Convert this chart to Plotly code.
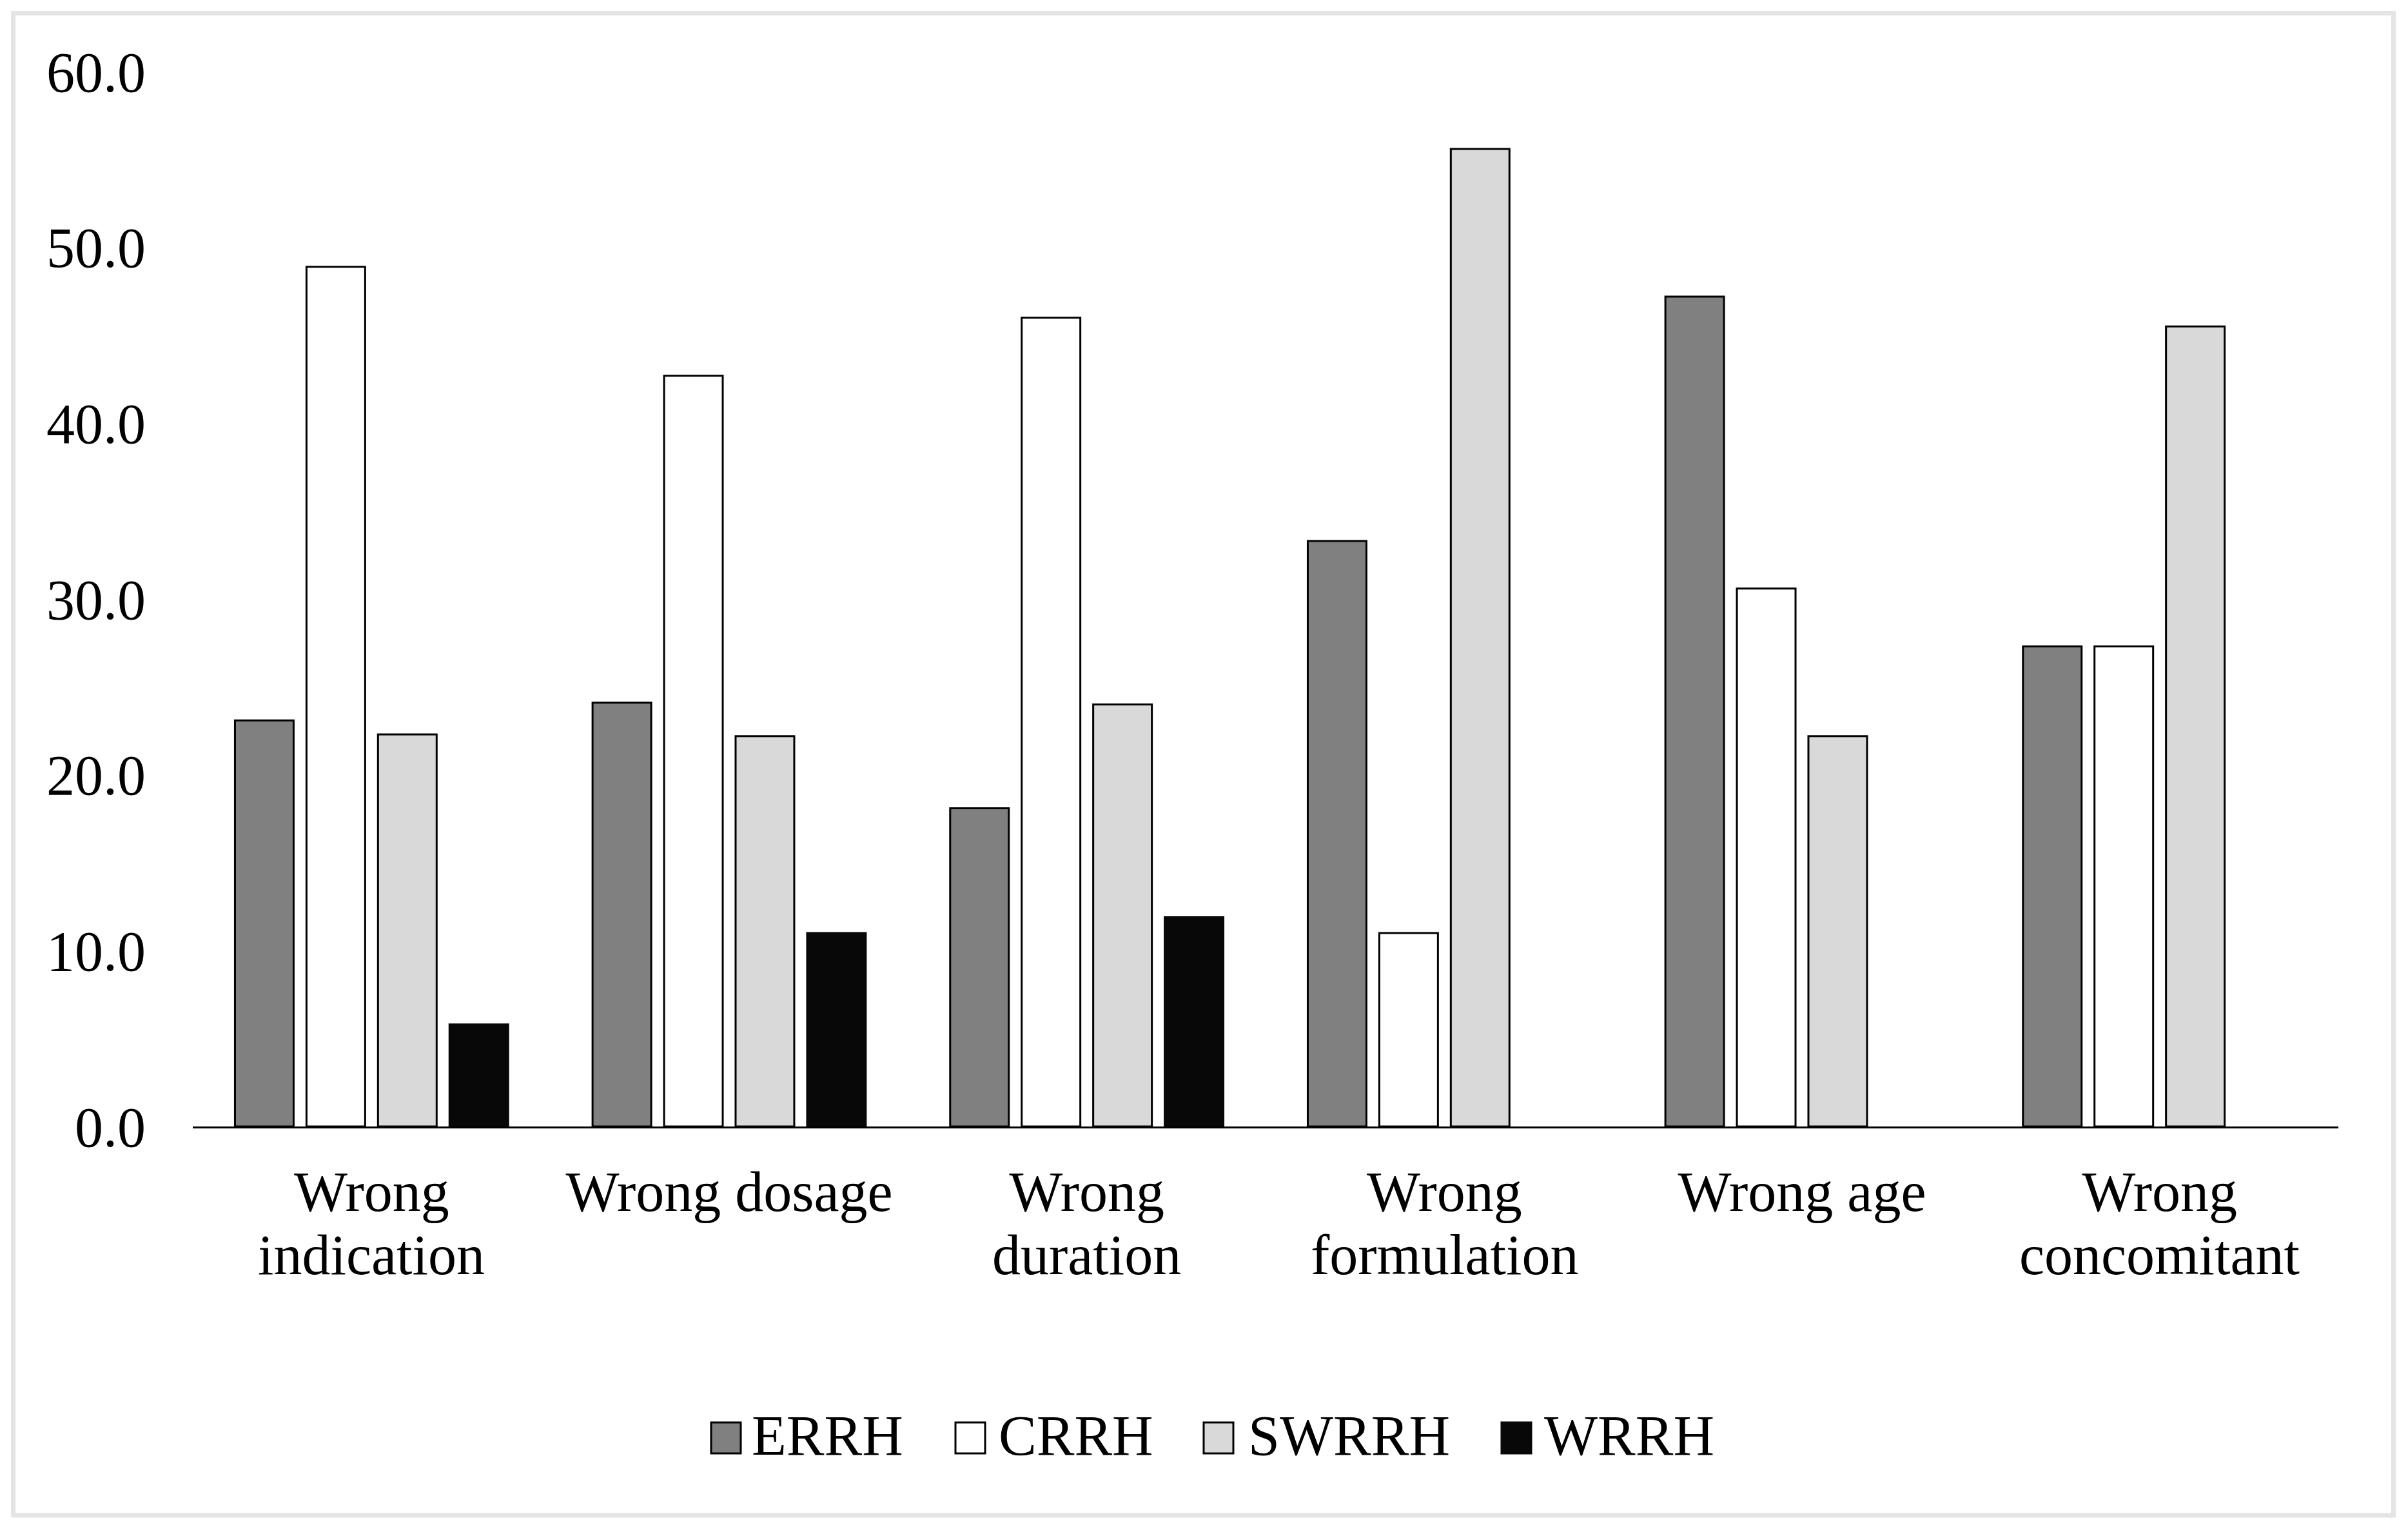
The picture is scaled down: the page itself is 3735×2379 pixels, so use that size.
import plotly.graph_objects as go

categories = ["Wrong<br>indication", "Wrong dosage", "Wrong<br>duration",
              "Wrong<br>formulation", "Wrong age", "Wrong<br>concomitant"]
series_names = ["ERRH", "CRRH", "SWRRH", "WRRH"]
errh = [23.1, 24.1, 18.1, 33.3, 47.2, 27.3]
crrh = [48.9, 42.7, 46.0, 11.0, 30.6, 27.3]
swrrh = [22.3, 22.2, 24.0, 55.6, 22.2, 45.5]
wrrh = [5.8, 11.0, 11.9, None, None, None]
y_ticks = [0, 10, 20, 30, 40, 50, 60]

series_values = [errh, crrh, swrrh, wrrh]
fills = ["#808080", "#ffffff", "#d9d9d9", "#080808"]
outlines = ["#000000", "#000000", "#000000", "#080808"]

OFF = 8  # browser body margin
W, H = 3735 - 2 * OFF, 2379 - 2 * OFF
# plot area in page pixels, converted to figure pixels
L, R, T, B = 299 - OFF, 3627 - OFF, 111 - OFF, 1747 - OFF
FONT = "Liberation Serif"
FS = 88

def px(x):
    return (x - OFF - L) / (R - L)

def py(y):
    return (B - (y - OFF)) / (B - T)

first_lines = [c.split("<br>")[0] for c in categories]
second_lines = [c.split("<br>")[1] if "<br>" in c else "" for c in categories]

fig = go.Figure()
for name, vals, fc, lc in zip(series_names, series_values, fills, outlines):
    fig.add_trace(go.Bar(
        x=categories, y=vals, name=name,
        marker=dict(color=fc, line=dict(color=lc, width=3)),
        showlegend=False,
    ))

shapes = []
annotations = []
# outer light-grey border
shapes.append(dict(type="rect", xref="paper", yref="paper",
                   x0=px(20.5), x1=px(3712.5), y0=py(20.5), y1=py(2350),
                   line=dict(color="#e4e4e4", width=7), fillcolor="rgba(0,0,0,0)",
                   layer="below"))
# second lines of the category labels (tighter line spacing than tick labels allow)
for cat, line2 in zip(categories, second_lines):
    if line2:
        annotations.append(dict(text=line2, xref="x", yref="paper",
                                x=cat, y=py(1946), xanchor="center", yanchor="middle",
                                showarrow=False,
                                font=dict(family=FONT, size=FS, color="#000000")))
# custom legend
sq_x = [(1103, 1149), (1482, 1528), (1867, 1913), (2329, 2375)]
tx_x = [1164, 1547, 1934, 2393]
for (a, b), tx, name, fc, lc in zip(sq_x, tx_x, series_names, fills, outlines):
    shapes.append(dict(type="rect", xref="paper", yref="paper",
                       x0=px(a), x1=px(b), y0=py(2254), y1=py(2206),
                       fillcolor=fc, line=dict(color=lc, width=3)))
    annotations.append(dict(text=name, xref="paper", yref="paper",
                            x=px(tx), y=py(2226), xanchor="left", yanchor="middle",
                            showarrow=False,
                            font=dict(family=FONT, size=FS, color="#000000")))

fig.update_layout(
    width=W, height=H,
    margin=dict(l=L, r=W - R, t=T, b=H - B, autoexpand=False),
    paper_bgcolor="#ffffff", plot_bgcolor="#ffffff",
    barmode="group", bargap=0.2, bargroupgap=0.18,
    font=dict(family=FONT, size=FS, color="#000000"),
    shapes=shapes, annotations=annotations,
    showlegend=False,
    xaxis=dict(showline=True, linecolor="#000000", linewidth=3,
               showgrid=False, zeroline=False, ticks="",
               tickmode="array", tickvals=categories, ticktext=first_lines,
               tickfont=dict(family=FONT, size=FS, color="#000000"),
               ticklabelstandoff=22),
    yaxis=dict(range=[0, 60], tickvals=y_ticks, tickformat=".1f",
               showline=False, showgrid=False, zeroline=False, ticks="",
               tickfont=dict(family=FONT, size=FS, color="#000000"),
               ticklabelstandoff=72),
)

fig.write_html("out.html")
